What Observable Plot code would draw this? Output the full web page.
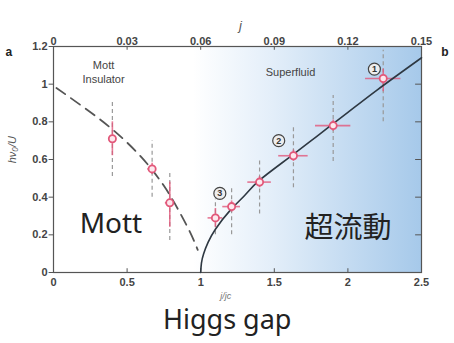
<!DOCTYPE html>
<html><head><meta charset="utf-8">
<script src="https://cdn.jsdelivr.net/npm/d3@7"></script>
<script src="https://cdn.jsdelivr.net/npm/@observablehq/plot@0.6"></script>
<style>body{margin:0;background:#fff;}</style>
</head><body><div id="chart"></div>
<script>
// Data points: x = j/jc, y = h nu0 / U
const jRatio = [0.40, 0.67, 0.79, 1.10, 1.21, 1.40, 1.63, 1.90, 2.24];
const freq   = [0.71, 0.55, 0.37, 0.29, 0.35, 0.48, 0.62, 0.78, 1.03];
const xErr   = [0.02, 0.03, 0.03, 0.05, 0.06, 0.08, 0.10, 0.12, 0.12];
const yLo    = [0.62, 0.52, 0.24, 0.24, 0.32, 0.45, 0.59, 0.75, 0.96];
const yHi    = [0.80, 0.58, 0.48, 0.34, 0.38, 0.51, 0.65, 0.81, 1.08];
const sysLo  = [0.51, 0.40, 0.17, 0.20, 0.20, 0.31, 0.45, 0.59, 0.80];
const sysHi  = [0.91, 0.70, 0.53, 0.39, 0.45, 0.60, 0.77, 0.94, 1.18];
// Mott boundary (dashed) and superfluid Higgs curve (solid)
const mottX  = [0.02, 0.2, 0.4, 0.6, 0.75, 0.85, 0.93, 0.98];
const mottY  = [0.98, 0.88, 0.76, 0.61, 0.46, 0.33, 0.21, 0.12];
const higgsX = [1.0, 1.005, 1.02, 1.05, 1.1, 1.2, 1.3, 1.4, 1.6, 1.8, 2.0, 2.2, 2.5];
const higgsY = [0.0, 0.05, 0.10, 0.16, 0.23, 0.33, 0.41, 0.49, 0.61, 0.73, 0.85, 0.97, 1.14];
// Circled labels
const markX = [2.18, 1.53, 1.13];
const markY = [1.08, 0.70, 0.42];
const markT = ["1", "2", "3"];
// Ticks
const xTicks = [0, 0.5, 1, 1.5, 2, 2.5];
const yTicks = [0, 0.2, 0.4, 0.6, 0.8, 1, 1.2];
const jTicks = [0, 0.03, 0.06, 0.09, 0.12, 0.15];
const jScale = 0.06; // j = (j/jc) * 0.06

const pts = jRatio.map((x, i) => ({x, y: freq[i], xe: xErr[i], lo: yLo[i], hi: yHi[i], slo: sysLo[i], shi: sysHi[i]}));
const mott = mottX.map((x, i) => ({x, y: mottY[i]}));
const higgs = higgsX.map((x, i) => ({x, y: higgsY[i]}));
const marks = markX.map((x, i) => ({x, y: markY[i], t: markT[i]}));

const pink = "#e2587a";
const axisCol = "#555";
const font = "Liberation Sans, Arial, sans-serif";

const chart = Plot.plot({
  width: 454, height: 343,
  marginLeft: 53, marginRight: 33, marginTop: 46, marginBottom: 71,
  style: {fontFamily: font, background: "white"},
  x: {domain: [0, 2.5], axis: null},
  y: {domain: [0, 1.2], axis: null},
  marks: [
    Plot.rect([{x1: 0.95, x2: 2.5}], {x1: "x1", x2: "x2", y1: 0, y2: 1.2, fill: "url(#sfgrad)"}),
    // inward ticks
    Plot.ruleX(xTicks, {x: d => d, y1: 0, y2: 0.02, stroke: axisCol}),
    Plot.ruleX(jTicks, {x: d => d / jScale, y1: 1.18, y2: 1.2, stroke: axisCol}),
    Plot.ruleY(yTicks, {y: d => d, x1: 2.46, x2: 2.5, stroke: axisCol}),
    Plot.ruleY(yTicks, {y: d => d, x1: -0.03, x2: 0.0, stroke: axisCol}),
    Plot.frame({stroke: axisCol, strokeWidth: 1.2}),
    // tick labels
    Plot.text(xTicks, {x: d => d, frameAnchor: "bottom", dy: 13, text: d => String(d), fontSize: 11, fill: "#444", fontWeight: "bold"}),
    Plot.text(jTicks, {x: d => d / jScale, frameAnchor: "top", dy: -9, text: d => String(d), fontSize: 11, fill: "#444", fontWeight: "bold"}),
    Plot.text(yTicks, {y: d => d, frameAnchor: "left", dx: -6, textAnchor: "end", text: d => String(d), fontSize: 11, fill: "#444", fontWeight: "bold"}),
    // boundary curves
    Plot.line(mott, {x: "x", y: "y", stroke: "#555", strokeWidth: 1.8, strokeDasharray: "11,7", curve: "natural"}),
    // error bars
    Plot.ruleX(pts, {x: "x", y1: "slo", y2: "shi", stroke: "#999", strokeWidth: 1.2, strokeDasharray: "4,3"}),
    Plot.ruleX(pts, {x: "x", y1: "lo", y2: "hi", stroke: pink, strokeWidth: 1.6, strokeOpacity: 0.8}),
    Plot.ruleY(pts, {y: "y", x1: d => d.x - d.xe, x2: d => d.x + d.xe, stroke: pink, strokeWidth: 1.6, strokeOpacity: 0.8}),
    Plot.line(higgs, {x: "x", y: "y", stroke: "#2e3842", strokeWidth: 1.6, curve: "natural"}),
    Plot.dot(pts, {x: "x", y: "y", r: 3.6, stroke: pink, strokeWidth: 1.8, fill: "#fde8ee"}),
    // circled numbers
    Plot.dot(marks, {x: "x", y: "y", r: 6, stroke: "#444", strokeWidth: 1.2, fill: "#eee"}),
    Plot.text(marks, {x: "x", y: "y", text: "t", fontSize: 9, fill: "#333", fontWeight: "bold"}),
    // region labels
    Plot.text(["Mott\nInsulator"], {x: 0.34, y: 1.065, text: d => d, fontSize: 11, fill: "#444", lineHeight: 1.25}),
    Plot.text(["Superfluid"], {x: 1.61, y: 1.06, text: d => d, fontSize: 11, fill: "#444"}),
    Plot.text(["Mott"], {x: 0.39, y: 0.26, text: d => d, fontSize: 28, fill: "#222", fontFamily: "Noto Sans"}),
    Plot.text(["超流動"], {x: 2.0, y: 0.235, text: d => d, fontSize: 29, fill: "#222", fontFamily: "Noto Sans CJK JP"}),
    // axis titles
    Plot.text(["j/jc"], {frameAnchor: "bottom", x: 1.17, dy: 26, text: d => d, fontSize: 9, fill: "#777", fontStyle: "italic"}),
    Plot.text(["j"], {frameAnchor: "top", x: 1.27, dy: -26, text: d => d, fontSize: 13, fill: "#555", fontStyle: "italic"}),
    Plot.text(["hν₀/U"], {frameAnchor: "left", y: 0.58, dx: -41, rotate: -90, text: d => d, fontSize: 11, fill: "#555", fontStyle: "italic"}),
    Plot.text(["Higgs gap"], {frameAnchor: "bottom", x: 1.18, dy: 56, text: d => d, fontSize: 27, fill: "#222", fontFamily: "Noto Sans"}),
    Plot.text(["a"], {frameAnchor: "top-left", dx: -48, dy: 1, text: d => d, fontSize: 12, fontWeight: "bold", fill: "#222"}),
    Plot.text(["b"], {frameAnchor: "top-right", dx: 27, dy: 1, text: d => d, fontSize: 12, fontWeight: "bold", fill: "#222"})
  ]
});

const defs = document.createElementNS("http://www.w3.org/2000/svg", "defs");
defs.innerHTML = '<linearGradient id="sfgrad" x1="0" x2="1" y1="0" y2="0"><stop offset="0" stop-color="#ffffff"/><stop offset="0.35" stop-color="#e3eef9"/><stop offset="1" stop-color="#a6c9ea"/></linearGradient>';
chart.insertBefore(defs, chart.firstChild);
document.getElementById("chart").appendChild(chart);
</script>
</body></html>
